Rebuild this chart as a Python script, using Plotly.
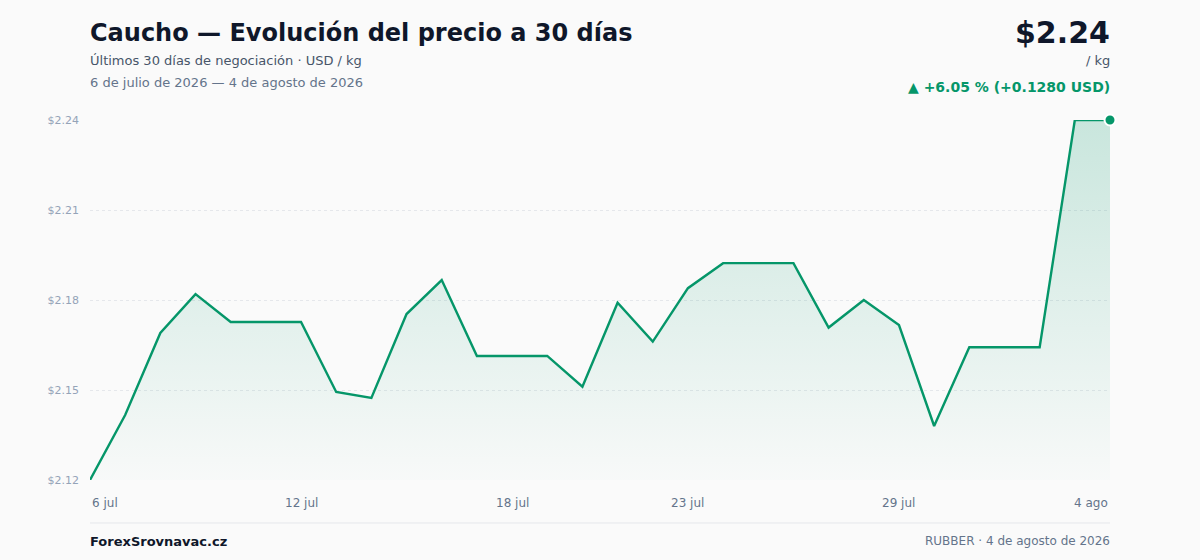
import plotly.graph_objects as go

# trading days (6 jul -> 4 ago 2026)
days = [f"{d} jul" for d in range(6, 32)] + [f"{d} ago" for d in range(1, 5)]
prices = [2.1157, 2.1388, 2.1680, 2.1818, 2.1719, 2.1719, 2.1719, 2.1470, 2.1449, 2.1747,
          2.1868, 2.1598, 2.1598, 2.1598, 2.1489, 2.1787, 2.1649, 2.1839, 2.1928, 2.1928,
          2.1928, 2.1699, 2.1797, 2.1708, 2.1349, 2.1629, 2.1629, 2.1629, 2.2437, 2.2437]
tick_days = ["6 jul", "12 jul", "18 jul", "23 jul", "29 jul", "4 ago"]

GREEN = "#059669"
BG = "#fafafa"
FONT = "DejaVu Sans"

ymin, ymax = min(prices), max(prices)
yticks = [ymin + k * (ymax - ymin) / 4 for k in range(5)]
first, last = prices[0], prices[-1]
diff = last - first
pct = diff / first * 100

# plot box in page pixels: x 90..1110, y 120..480
def px(x):
    return (x - 90) / 1020

def py(y):
    return (480 - y) / 360

fig = go.Figure()

fig.add_trace(go.Scatter(
    x=days, y=prices, mode="lines",
    line=dict(color=GREEN, width=2.4),
    fill="tozeroy",
    fillgradient=dict(type="vertical",
                      colorscale=[[0, "rgba(5,150,105,0.01)"], [1, "rgba(5,150,105,0.20)"]],
                      start=ymin, stop=ymax),
    hoverinfo="skip", showlegend=False,
))
fig.add_trace(go.Scatter(
    x=[days[-1]], y=[last], mode="markers",
    marker=dict(color=GREEN, size=11, line=dict(color="white", width=2)),
    cliponaxis=False, showlegend=False, hoverinfo="skip",
))

ann = []
# x tick labels, first left aligned, last right aligned
for i, d in enumerate(tick_days):
    anchor = "left" if i == 0 else ("right" if i == len(tick_days) - 1 else "center")
    ann.append(dict(x=d, y=0, xref="x", yref="paper", yanchor="top", xanchor=anchor,
                    yshift=-14, text=d, showarrow=False,
                    font=dict(family=FONT, size=12, color="#64748b")))

ann += [
    dict(x=px(90), y=py(33), text="<b>Caucho — Evolución del precio a 30 días</b>",
         font=dict(family=FONT, size=24, color="#0f172a")),
    dict(x=px(90), y=py(61), text="Últimos 30 días de negociación · USD / kg",
         font=dict(family=FONT, size=13, color="#475569")),
    dict(x=px(90), y=py(83), text="6 de julio de 2026 — 4 de agosto de 2026",
         font=dict(family=FONT, size=13, color="#64748b")),
    dict(x=px(1110), y=py(32), text=f"<b>${last:.2f}</b>", xanchor="right",
         font=dict(family=FONT, size=30, color="#0f172a")),
    dict(x=px(1110), y=py(61), text="/ kg", xanchor="right",
         font=dict(family=FONT, size=13, color="#475569")),
    dict(x=px(1110), y=py(87), text=f"<b>▲ +{pct:.2f} % (+{diff:.4f} USD)</b>", xanchor="right",
         font=dict(family=FONT, size=14, color=GREEN)),
    dict(x=px(90), y=py(541), text="<b>ForexSrovnavac.cz</b>",
         font=dict(family=FONT, size=13, color="#0f172a")),
    dict(x=px(1110), y=py(541), text="RUBBER · 4 de agosto de 2026", xanchor="right",
         font=dict(family=FONT, size=12, color="#64748b")),
]
for a in ann[len(tick_days):]:
    a.setdefault("xanchor", "left")
    # annotation boxes carry a little padding; nudge text edges onto the plot edges
    a.update(xref="paper", yref="paper", yanchor="middle", showarrow=False,
             xshift=-2 if a["xanchor"] == "left" else 2)

fig.update_layout(
    width=1200, height=560,
    margin=dict(l=90, r=90, t=120, b=80),
    paper_bgcolor=BG, plot_bgcolor=BG,
    font=dict(family=FONT),
    annotations=ann,
    shapes=[dict(type="line", xref="paper", yref="paper", x0=0, x1=1, y0=py(523), y1=py(523),
                 line=dict(color="#e5e7eb", width=1))],
    xaxis=dict(range=[0, len(days) - 1], showticklabels=False, showgrid=False,
               zeroline=False, showline=False, ticks=""),
    yaxis=dict(range=[ymin, ymax], tickvals=yticks,
               ticktext=[f"${v:.2f}" for v in yticks],
               tickfont=dict(family=FONT, size=11, color="#94a3b8"),
               ticklabelstandoff=10, ticks="",
               showgrid=True, gridcolor="#e5e7eb", griddash="dot", gridwidth=1,
               zeroline=False, showline=False),
)

# drop the default body margin so the figure fills the window
fig.write_html("out.html", config={"displayModeBar": False},
               post_script=f"document.body.style.margin='0';document.body.style.background='{BG}';"
                           "document.body.style.overflow='hidden';")
